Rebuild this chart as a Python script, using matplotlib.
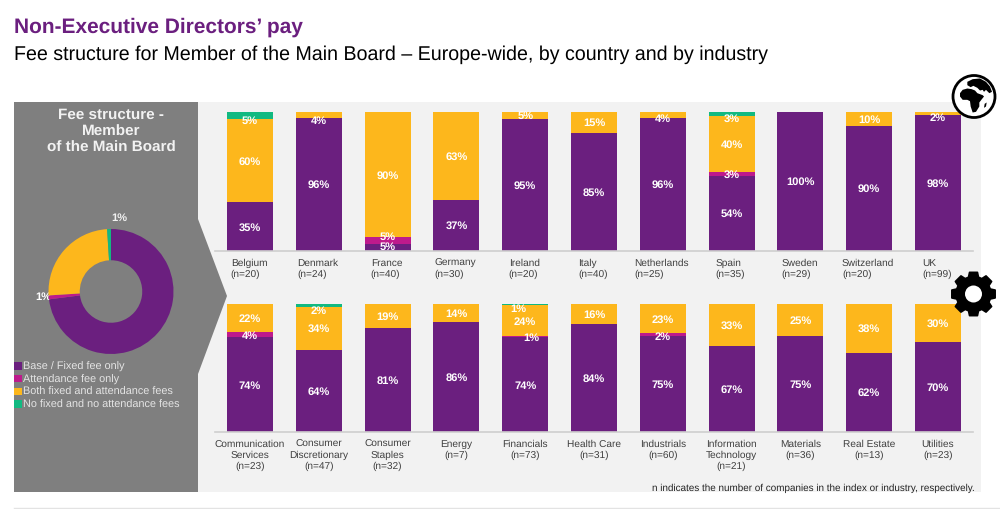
#!/usr/bin/env python
"""Non-executive directors' pay: fee structure by country and by industry."""
import numpy as np
import matplotlib
matplotlib.use("Agg")
import matplotlib.pyplot as plt
from matplotlib.patches import Circle, Polygon, Rectangle
from matplotlib.transforms import ScaledTranslation

plt.rcParams["font.family"] = ["Liberation Sans", "DejaVu Sans"]
plt.rcParams["text.hinting"] = "no_hinting"

SERIES = ["Base / Fixed fee only", "Attendance fee only",
          "Both fixed and attendance fees", "No fixed and no attendance fees"]
COLORS = ["#6B1F7F", "#BE1A8C", "#FDB71C", "#12B981"]

DONUT = [73, 1, 25, 1]

COUNTRIES = ["Belgium\n(n=20)", "Denmark\n(n=24)", "France\n(n=40)", "Germany\n(n=30)",
             "Ireland\n(n=20)", "Italy\n(n=40)", "Netherlands\n(n=25)", "Spain\n(n=35)",
             "Sweden\n(n=29)", "Switzerland\n(n=20)", "UK\n(n=99)"]
COUNTRY_BASE = [35, 96, 5, 37, 95, 85, 96, 54, 100, 90, 98]
COUNTRY_ATT = [0, 0, 5, 0, 0, 0, 0, 3, 0, 0, 0]
COUNTRY_BOTH = [60, 4, 90, 63, 5, 15, 4, 40, 0, 10, 2]
COUNTRY_NONE = [5, 0, 0, 0, 0, 0, 0, 3, 0, 0, 0]

INDUSTRIES = ["Communication\nServices\n(n=23)", "Consumer\nDiscretionary\n(n=47)",
              "Consumer\nStaples\n(n=32)", "Energy\n(n=7)", "Financials\n(n=73)",
              "Health Care\n(n=31)", "Industrials\n(n=60)", "Information\nTechnology\n(n=21)",
              "Materials\n(n=36)", "Real Estate\n(n=13)", "Utilities\n(n=23)"]
INDUSTRY_BASE = [74, 64, 81, 86, 74, 84, 75, 67, 75, 62, 70]
INDUSTRY_ATT = [4, 0, 0, 0, 1, 0, 2, 0, 0, 0, 0]
INDUSTRY_BOTH = [22, 34, 19, 14, 24, 16, 23, 33, 25, 38, 30]
INDUSTRY_NONE = [0, 2, 0, 0, 1, 0, 0, 0, 0, 0, 0]

# labels that sit off their thin segment, (bar, series): (px right, px up)
COUNTRY_NUDGE = {(0, 3): (0, -5), (1, 2): (0, -5), (2, 0): (0, 1.5), (2, 1): (0, 4.5),
                 (6, 2): (0, -3), (7, 3): (0, -4), (10, 2): (0, -4)}
INDUSTRY_NUDGE = {(1, 3): (0, -5), (4, 3): (-7, -3.5), (4, 1): (6, 0), (6, 1): (0, -1)}

W, H = 1000, 510
PX = 0.72  # points per pixel at dpi 100
BAR_STEP = 68.8
BAR_WIDTH = 46 / BAR_STEP
TEXT_GREY = "#404040"


def bar_panel(fig, top, bottom, labels, rows, nudge, pad, align, label_shift):
    left, right = 215, 973
    ax = fig.add_axes([left / W, 1 - bottom / H, (right - left) / W, (bottom - top) / H])
    ax.patch.set_alpha(0)
    x = np.arange(len(labels))
    base = np.zeros(len(labels))
    for s, vals in enumerate(rows):
        vals = np.array(vals, dtype=float)
        ax.bar(x, vals, BAR_WIDTH, bottom=base, color=COLORS[s], linewidth=0)
        for i, v in enumerate(vals):
            if v > 0:
                dx, dy = nudge.get((i, s), (0, 0))
                ax.annotate(f"{v:.0f}%", (x[i], base[i] + v / 2),
                            xytext=(dx * PX, dy * PX), textcoords="offset points",
                            ha="center", va="center", color="white",
                            fontsize=8, fontweight="bold")
        base += vals
    ax.set_xlim((left - 250) / BAR_STEP, (right - 250) / BAR_STEP)
    ax.set_ylim(0, 100)
    ax.set_yticks([])
    ax.set_xticks(x, labels, fontsize=7.3, color=TEXT_GREY, linespacing=1.2, multialignment=align)
    ax.tick_params(axis="x", length=0, pad=pad)
    shift = ScaledTranslation(label_shift * PX / 72, 0, fig.dpi_scale_trans)
    for lab in ax.get_xticklabels():
        lab.set_transform(lab.get_transform() + shift)
    for side in ["top", "left", "right"]:
        ax.spines[side].set_visible(False)
    ax.spines["bottom"].set_color("#CFCFCF")
    ax.spines["bottom"].set_linewidth(1.2)
    return ax


def draw_globe(bg, cx, cy):
    bg.add_patch(Circle((cx, cy), 21, fc="white", ec="black", lw=2.0, zorder=5))
    # continents traced on a 3x crop of the icon, offsets from its centre
    land = [
        [(40, 72), (48, 62), (62, 58), (75, 60), (85, 64), (92, 72), (108, 78), (112, 82),
         (104, 92), (98, 100), (98, 112), (88, 128), (78, 130), (72, 112), (70, 96),
         (62, 92), (48, 92), (40, 82)],
        [(62, 38), (78, 30), (100, 28), (118, 38), (130, 52), (136, 68), (128, 72), (118, 62),
         (112, 68), (108, 62), (100, 64), (92, 56), (80, 50), (72, 54), (62, 48)],
        [(114, 104), (120, 100), (118, 112), (112, 116)],
    ]
    for pts in land:
        bg.add_patch(Polygon([(cx + (a - 82) / 3, cy + (b - 82) / 3) for a, b in pts],
                             fc="black", ec="none", zorder=6))


def draw_gear(bg, cx, cy):
    teeth = 8
    pts = []
    for k in range(teeth):
        a = 2 * np.pi * k / teeth
        for da, r in [(-0.29, 17.5), (-0.18, 22), (0.18, 22), (0.29, 17.5)]:
            pts.append((cx + r * np.sin(a + da), cy + r * np.cos(a + da)))
    bg.add_patch(Polygon(pts, fc="black", ec="black", lw=1.2, joinstyle="round", zorder=5))
    bg.add_patch(Circle((cx, cy), 8.5, fc="white", ec="none", zorder=6))


def main():
    fig = plt.figure(figsize=(W / 100, H / 100), dpi=100, facecolor="white")

    # backdrop in pixel coordinates
    bg = fig.add_axes([0, 0, 1, 1])
    bg.set_xlim(0, W)
    bg.set_ylim(H, 0)
    bg.axis("off")
    bg.add_patch(Rectangle((14, 103), 967, 390, fc="#F2F2F2", ec="none"))
    bg.add_patch(Polygon([(14, 103), (198, 103), (198, 220), (227, 297), (198, 375),
                          (198, 493), (14, 493)], fc="#7F7F7F", ec="none"))
    bg.plot([14, 1000], [509, 509], color="#E3E3E3", lw=1)

    bg.text(14, 27, "Non-Executive Directors\u2019 pay", color="#6B1F7F", fontsize=15,
            fontweight="bold", va="center")
    bg.text(14, 55, "Fee structure for Member of the Main Board \u2013 Europe-wide, by country and by industry",
            color="black", fontsize=14.1, va="center")
    bg.text(111, 131.5, "Fee structure -\nMember\nof the Main Board", color="#F2F2F2", fontsize=11,
            fontweight="bold", ha="center", va="center", linespacing=1.25)

    for i, name in enumerate(SERIES):
        y = 367 + i * 12.6
        bg.add_patch(Rectangle((14, y - 3.7), 7.5, 7.5, fc=COLORS[i], ec="none"))
        bg.text(23, y, name, color="#E4E4E4", fontsize=7.85, va="center")

    bg.text(975, 488, "n indicates the number of companies in the index or industry, respectively.",
            color="#222222", fontsize=7.1, ha="right", va="center")

    # donut
    dax = fig.add_axes([(111 - 62.5) / W, 1 - 355 / H, 125 / W, 125 / H])
    dax.pie(DONUT, colors=COLORS, startangle=90, counterclock=False, radius=1,
            wedgeprops={"width": 0.5, "linewidth": 0})
    dax.set_xlim(-1, 1)
    dax.set_ylim(-1, 1)
    bg.text(119, 218, "1%", color="#F2F2F2", fontsize=8, fontweight="bold", ha="center", va="center")
    bg.text(76, 261, "25%", color="white", fontsize=8, fontweight="bold", ha="center", va="center")
    bg.text(43, 297, "1%", color="white", fontsize=8, fontweight="bold", ha="center", va="center")

    bar_panel(fig, 113, 252, COUNTRIES,
              [COUNTRY_BASE, COUNTRY_ATT, COUNTRY_BOTH, COUNTRY_NONE], COUNTRY_NUDGE, 5, "left", -1)
    bar_panel(fig, 305, 433, INDUSTRIES,
              [INDUSTRY_BASE, INDUSTRY_ATT, INDUSTRY_BOTH, INDUSTRY_NONE], INDUSTRY_NUDGE, 5, "center", 0)

    # icons sit over the bars
    top = fig.add_axes([0, 0, 1, 1], zorder=10)
    top.set_xlim(0, W)
    top.set_ylim(H, 0)
    top.axis("off")
    draw_globe(top, 974, 97.5)
    draw_gear(top, 973.5, 295)

    fig.savefig("out.png", dpi=100)
    plt.close(fig)


if __name__ == "__main__":
    main()
